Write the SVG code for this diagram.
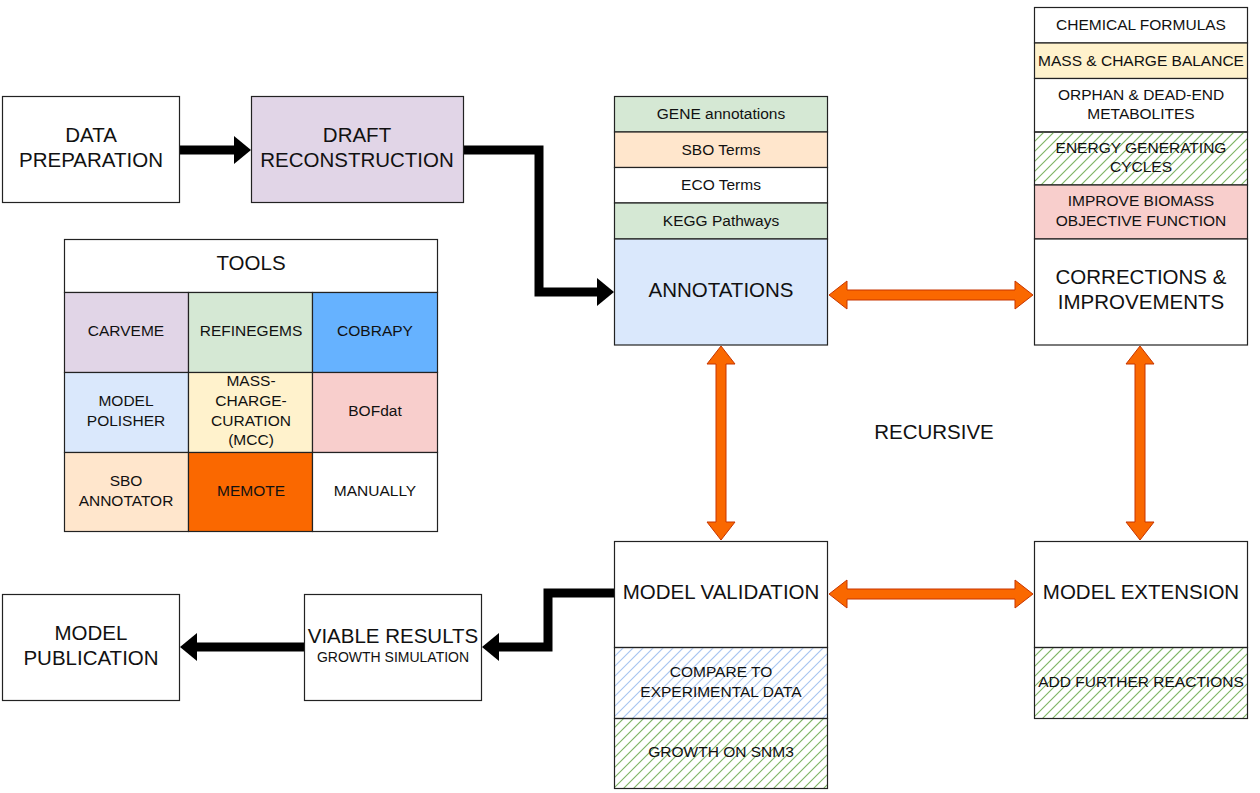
<svg xmlns="http://www.w3.org/2000/svg" xmlns:xlink="http://www.w3.org/1999/xlink" width="1260" height="793" viewBox="0 0 1260 793">
  <style>
    .box { stroke: #222; stroke-width: 1.2; }
    .frame { fill: none; stroke: #222; stroke-width: 1.2; }
    .big { font-family: "Liberation Sans", Arial, sans-serif; font-size: 20.5px; fill: #111; text-anchor: middle; }
    .sm { font-family: "Liberation Sans", Arial, sans-serif; font-size: 15.5px; fill: #111; text-anchor: middle; }
    .xs { font-family: "Liberation Sans", Arial, sans-serif; font-size: 14px; fill: #111; text-anchor: middle; }
    .wire { fill: none; stroke: #000; stroke-width: 9; stroke-linejoin: miter; }
    .head { fill: #000; }
    .both { fill: #fa6800; stroke: #c73500; stroke-width: 1; }
    .hatch-green { fill: none; stroke: #7fb565; stroke-width: 1.1; }
    .hatch-blue { fill: none; stroke: #a8c5f0; stroke-width: 1.1; }
  </style>
  <defs>
    <!-- diagonal hatch strokes, spaced 10px, covering 320x100 -->
    <path id="hatchLines" d="M-100,100 l100,-100 m-90,100 l100,-100 m-90,100 l100,-100 m-90,100 l100,-100 m-90,100 l100,-100 m-90,100 l100,-100 m-90,100 l100,-100 m-90,100 l100,-100 m-90,100 l100,-100 m-90,100 l100,-100 m-90,100 l100,-100 m-90,100 l100,-100 m-90,100 l100,-100 m-90,100 l100,-100 m-90,100 l100,-100 m-90,100 l100,-100 m-90,100 l100,-100 m-90,100 l100,-100 m-90,100 l100,-100 m-90,100 l100,-100 m-90,100 l100,-100 m-90,100 l100,-100 m-90,100 l100,-100 m-90,100 l100,-100 m-90,100 l100,-100 m-90,100 l100,-100 m-90,100 l100,-100 m-90,100 l100,-100 m-90,100 l100,-100 m-90,100 l100,-100 m-90,100 l100,-100 m-90,100 l100,-100 m-90,100 l100,-100"/>
    <clipPath id="clip53"><rect x="0" y="0" width="213" height="53"/></clipPath>
    <clipPath id="clip71"><rect x="0" y="0" width="213" height="71"/></clipPath>
  </defs>
  <rect width="1260" height="793" fill="#ffffff"/>

  <!-- connectors -->
  <g id="connectors">
    <!-- main pipeline (black) -->
    <line class="wire" x1="180" y1="150" x2="237" y2="150"/>
    <polygon class="head" points="234,136 251,150 234,164"/>
    <polyline class="wire" points="463,150 539,150 539,292 599,292"/>
    <polygon class="head" points="597,278 614,292 597,306"/>
    <polyline class="wire" points="614,593 548,593 548,647 497,647"/>
    <polygon class="head" points="499,633 482,647 499,661"/>
    <line class="wire" x1="304" y1="647" x2="195" y2="647"/>
    <polygon class="head" points="197,633 180,647 197,661"/>
    <!-- recursive loop (orange, two-way) -->
    <polygon class="both" points="829,295 847,281 847,290 1015,290 1015,281 1033,295 1015,309 1015,300 847,300 847,309"/>
    <polygon class="both" points="829,594 847,580 847,589 1015,589 1015,580 1033,594 1015,608 1015,599 847,599 847,608"/>
    <polygon class="both" points="721,346 735,364 726,364 726,522 735,522 721,540 707,522 716,522 716,364 707,364"/>
    <polygon class="both" points="1140,346 1154,364 1145,364 1145,522 1154,522 1140,540 1126,522 1135,522 1135,364 1126,364"/>
  </g>

  <g id="data-preparation">
    <rect class="box" x="2.5" y="96.5" width="177" height="106" fill="#ffffff"/>
    <text class="big" x="91" y="142">DATA</text>
    <text class="big" x="91" y="167">PREPARATION</text>
  </g>

  <g id="draft-reconstruction">
    <rect class="box" x="251.5" y="96.5" width="212" height="106" fill="#e1d5e7"/>
    <text class="big" x="357" y="142">DRAFT</text>
    <text class="big" x="357" y="167">RECONSTRUCTION</text>
  </g>

  <g id="annotations">
    <rect class="box" x="614.5" y="96.5" width="213" height="35.5" fill="#d5e8d4"/>
    <text class="sm" x="721" y="119">GENE annotations</text>
    <rect class="box" x="614.5" y="132" width="213" height="35.5" fill="#ffe6cc"/>
    <text class="sm" x="721" y="155">SBO Terms</text>
    <rect class="box" x="614.5" y="167.5" width="213" height="35.5" fill="#ffffff"/>
    <text class="sm" x="721" y="190">ECO Terms</text>
    <rect class="box" x="614.5" y="203" width="213" height="36" fill="#d5e8d4"/>
    <text class="sm" x="721" y="226">KEGG Pathways</text>
    <rect class="box" x="614.5" y="239" width="213" height="106" fill="#dae8fc"/>
    <text class="big" x="721" y="297">ANNOTATIONS</text>
  </g>

  <g id="corrections">
    <rect class="box" x="1034.5" y="7.5" width="213" height="35.5" fill="#ffffff"/>
    <text class="sm" x="1141" y="30">CHEMICAL FORMULAS</text>
    <rect class="box" x="1034.5" y="43" width="213" height="35.5" fill="#fff2cc"/>
    <text class="sm" x="1141" y="66">MASS &amp; CHARGE BALANCE</text>
    <rect class="box" x="1034.5" y="78.5" width="213" height="53.5" fill="#ffffff"/>
    <text class="sm" x="1141" y="100">ORPHAN &amp; DEAD-END</text>
    <text class="sm" x="1141" y="119">METABOLITES</text>
    <g transform="translate(1034,132)"><g clip-path="url(#clip53)"><use xlink:href="#hatchLines" class="hatch-green"/></g></g>
    <rect class="frame" x="1034.5" y="132" width="213" height="53"/>
    <text class="sm" x="1141" y="153">ENERGY GENERATING</text>
    <text class="sm" x="1141" y="172">CYCLES</text>
    <rect class="box" x="1034.5" y="185" width="213" height="54" fill="#f8cecc"/>
    <text class="sm" x="1141" y="206">IMPROVE BIOMASS</text>
    <text class="sm" x="1141" y="226">OBJECTIVE FUNCTION</text>
    <rect class="box" x="1034.5" y="239" width="213" height="106" fill="#ffffff"/>
    <text class="big" x="1141" y="284">CORRECTIONS &amp;</text>
    <text class="big" x="1141" y="309">IMPROVEMENTS</text>
  </g>

  <g id="tools">
    <rect class="box" x="64.5" y="239.5" width="373" height="53" fill="#ffffff"/>
    <text class="big" x="251" y="270">TOOLS</text>
    <rect class="box" x="64.5" y="292.5" width="124" height="80" fill="#e1d5e7"/>
    <text class="sm" x="126" y="336">CARVEME</text>
    <rect class="box" x="188.5" y="292.5" width="124" height="80" fill="#d5e8d4"/>
    <text class="sm" x="251" y="336">REFINEGEMS</text>
    <rect class="box" x="312.5" y="292.5" width="125" height="80" fill="#66b2ff"/>
    <text class="sm" x="375" y="336">COBRAPY</text>
    <rect class="box" x="64.5" y="372.5" width="124" height="80" fill="#dae8fc"/>
    <text class="sm" x="126" y="406">MODEL</text>
    <text class="sm" x="126" y="426">POLISHER</text>
    <rect class="box" x="188.5" y="372.5" width="124" height="80" fill="#fff2cc"/>
    <text class="sm" x="251" y="386">MASS-</text>
    <text class="sm" x="251" y="406">CHARGE-</text>
    <text class="sm" x="251" y="426">CURATION</text>
    <text class="sm" x="251" y="445">(MCC)</text>
    <rect class="box" x="312.5" y="372.5" width="125" height="80" fill="#f8cecc"/>
    <text class="sm" x="375" y="416">BOFdat</text>
    <rect class="box" x="64.5" y="452.5" width="124" height="79" fill="#ffe6cc"/>
    <text class="sm" x="126" y="486">SBO</text>
    <text class="sm" x="126" y="506">ANNOTATOR</text>
    <rect class="box" x="188.5" y="452.5" width="124" height="79" fill="#fa6800"/>
    <text class="sm" x="251" y="496">MEMOTE</text>
    <rect class="box" x="312.5" y="452.5" width="125" height="79" fill="#ffffff"/>
    <text class="sm" x="375" y="496">MANUALLY</text>
  </g>

  <g id="recursive-label">
    <text class="big" x="934" y="439">RECURSIVE</text>
  </g>

  <g id="model-validation">
    <rect class="box" x="614.5" y="541.5" width="213" height="106" fill="#ffffff"/>
    <text class="big" x="721" y="599">MODEL VALIDATION</text>
    <g transform="translate(614,647)"><g clip-path="url(#clip71)"><use xlink:href="#hatchLines" class="hatch-blue"/></g></g>
    <rect class="frame" x="614.5" y="647.5" width="213" height="71"/>
    <text class="sm" x="721" y="677">COMPARE TO</text>
    <text class="sm" x="721" y="697">EXPERIMENTAL DATA</text>
    <g transform="translate(614,718)"><g clip-path="url(#clip71)"><use xlink:href="#hatchLines" class="hatch-green"/></g></g>
    <rect class="frame" x="614.5" y="718.5" width="213" height="70"/>
    <text class="sm" x="721" y="757">GROWTH ON SNM3</text>
  </g>

  <g id="model-extension">
    <rect class="box" x="1034.5" y="541.5" width="213" height="106" fill="#ffffff"/>
    <text class="big" x="1141" y="599">MODEL EXTENSION</text>
    <g transform="translate(1034,647)"><g clip-path="url(#clip71)"><use xlink:href="#hatchLines" class="hatch-green"/></g></g>
    <rect class="frame" x="1034.5" y="647.5" width="213" height="71"/>
    <text class="sm" x="1141" y="687">ADD FURTHER REACTIONS</text>
  </g>

  <g id="viable-results">
    <rect class="box" x="304.5" y="594.5" width="177" height="106" fill="#ffffff"/>
    <text class="big" x="393" y="643">VIABLE RESULTS</text>
    <text class="xs" x="393" y="662">GROWTH SIMULATION</text>
  </g>

  <g id="model-publication">
    <rect class="box" x="2.5" y="594.5" width="177" height="106" fill="#ffffff"/>
    <text class="big" x="91" y="640">MODEL</text>
    <text class="big" x="91" y="665">PUBLICATION</text>
  </g>
</svg>
